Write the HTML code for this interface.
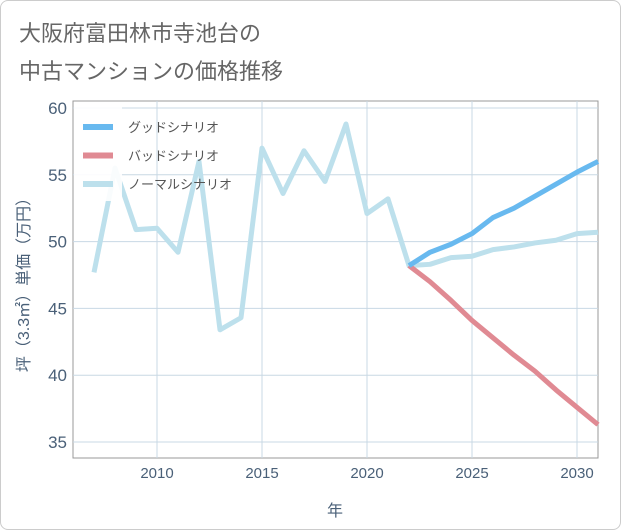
<!DOCTYPE html>
<html><head><meta charset="utf-8"><style>
body{margin:0;background:#fff;}
#w{width:619px;height:528px;border:1px solid #ccc;border-radius:8px;position:relative;overflow:hidden;font-family:"Liberation Sans","Noto Sans CJK JP",sans-serif;}
</style></head><body>
<div id="w">
<svg id="s" width="621" height="530">
<text x="18" y="40" font-size="22" fill="#666" font-family="Liberation Sans,Noto Sans CJK JP,sans-serif">大阪府富田林市寺池台の</text>
<text x="18" y="78" font-size="22" fill="#666" font-family="Liberation Sans,Noto Sans CJK JP,sans-serif">中古マンションの価格推移</text>
</svg></div>
<script>
const years=[2007,2008,2009,2010,2011,2012,2013,2014,2015,2016,2017,2018,2019,2020,2021,2022,2023,2024,2025,2026,2027,2028,2029,2030,2031];
const normal=[47.7,55.5,50.9,51.0,49.2,56.0,43.4,44.3,57.0,53.6,56.8,54.5,58.8,52.1,53.2,48.2,48.3,48.8,48.9,49.4,49.6,49.9,50.1,50.6,50.7];
const fYears=[2022,2023,2024,2025,2026,2027,2028,2029,2030,2031];
const good=[48.2,49.2,49.8,50.6,51.8,52.5,53.4,54.3,55.2,56.0];
const bad=[48.2,47.0,45.6,44.1,42.8,41.5,40.3,38.9,37.6,36.3];
const xTicks=[2010,2015,2020,2025,2030];
const yTicks=[35,40,45,50,55,60];
const L=72,R=597,T=100,B=457;
const X=v=>156+(v-2010)*21;
const Y=v=>107+(60-v)*13.36;
const s=document.getElementById('s');const NS='http://www.w3.org/2000/svg';
function mk(t,a,name){const e=document.createElementNS(NS,t);for(const k in a)e.setAttribute(k,a[k]);


s.appendChild(e);return e;}
mk('rect',{x:L,y:T,width:R-L,height:B-T,fill:'#fff',stroke:'#999'},'plot-area');
xTicks.forEach(v=>{mk('line',{x1:X(v),x2:X(v),y1:T,y2:B,stroke:'#c8d8e4'},'x-grid');
const t=mk('text',{x:X(v),y:B+20,'text-anchor':'middle','font-size':15,fill:'#4a6078'},'x-tick-label');t.textContent=v;});
yTicks.forEach(v=>{mk('line',{x1:L,x2:R,y1:Y(v),y2:Y(v),stroke:'#c8d8e4'},'y-grid');
const t=mk('text',{x:L-6,y:Y(v)+6,'text-anchor':'end','font-size':17,fill:'#4a6078'},'y-tick-label');t.textContent=v;});
const xt=mk('text',{x:334,y:515,'text-anchor':'middle','font-size':16,fill:'#4a6078'},'x-axis-title');xt.textContent='年';
const yt=mk('text',{x:0,y:0,'text-anchor':'middle','font-size':16,fill:'#4a6078',transform:'translate(28,280) rotate(-90)'},'y-axis-title');yt.textContent='坪（3.3㎡）単価（万円）';
function line(xs,ys,c,name){mk('polyline',{points:xs.map((x,i)=>X(x)+','+Y(ys[i])).join(' '),fill:'none',stroke:c,'stroke-width':5,'stroke-linejoin':'round'},name);}
line(years,normal,'#bde0ec','normal-line');
line(fYears,bad,'#e08a93','bad-line');
line(fYears,good,'#68b9ef','good-line');
mk('rect',{x:73,y:105,width:48,height:95,fill:'rgba(255,255,255,0.9)'},'legend-box');
[['グッドシナリオ','#68b9ef'],['バッドシナリオ','#e08a93'],['ノーマルシナリオ','#bde0ec']].forEach((d,i)=>{
const y=126+i*28.5;mk('line',{x1:82,x2:112,y1:y,y2:y,stroke:d[1],'stroke-width':6},'legend-swatch');
const t=mk('text',{x:127,y:y+5,'font-size':13,fill:'#555'},'legend-label');t.textContent=d[0];});
</script>
</body></html>
